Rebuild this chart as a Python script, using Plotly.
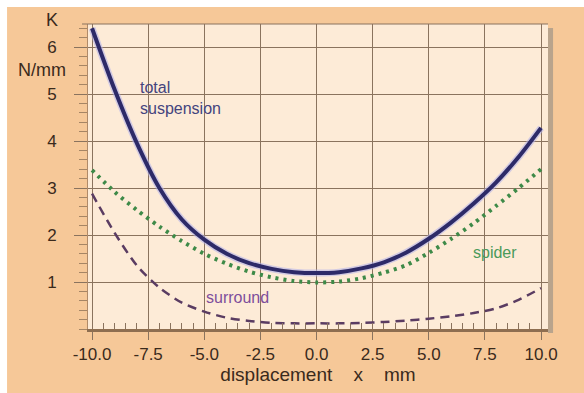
import plotly.graph_objects as go

# ---- data ----
displacement = [-10, -9, -8, -7, -6, -5, -4, -3, -2, -1, 0, 1, 2, 3, 4, 5, 6, 7, 8, 9, 10]
total_suspension = [6.40, 5.10, 3.95, 3.00, 2.33, 1.90, 1.60, 1.40, 1.28, 1.21, 1.19,
                    1.21, 1.29, 1.42, 1.63, 1.92, 2.27, 2.67, 3.12, 3.66, 4.28]
spider = [3.38, 2.92, 2.53, 2.18, 1.87, 1.60, 1.39, 1.22, 1.10, 1.02, 0.99,
          1.01, 1.08, 1.20, 1.36, 1.62, 1.92, 2.25, 2.62, 3.00, 3.40]
surround = [2.88, 2.05, 1.35, 0.88, 0.56, 0.37, 0.24, 0.17, 0.13, 0.12, 0.12,
            0.12, 0.13, 0.15, 0.18, 0.22, 0.27, 0.34, 0.44, 0.62, 0.87]
x_ticks = [-10.0, -7.5, -5.0, -2.5, 0.0, 2.5, 5.0, 7.5, 10.0]
y_ticks = [1, 2, 3, 4, 5, 6]

PEACH = "#F6C898"
CREAM = "#FDEBD7"
GRID = "#8A735E"
TEXT = "#3A2A1C"
FONT = "Liberation Sans, Arial, sans-serif"

fig = go.Figure()
fig.add_trace(go.Scatter(x=displacement, y=surround, mode="lines",
                         line=dict(color="#5A3C62", width=2.5, dash="9px,6px", shape="spline", smoothing=0.8),
                         hoverinfo="skip"))
fig.add_trace(go.Scatter(x=displacement, y=spider, mode="lines",
                         line=dict(color="#3E8A48", width=4, dash="3px,5px", shape="spline", smoothing=0.8),
                         hoverinfo="skip"))
# soft halo under the total curve
fig.add_trace(go.Scatter(x=displacement, y=total_suspension, mode="lines",
                         line=dict(color="rgba(175,175,235,0.55)", width=7, shape="spline", smoothing=0.8),
                         hoverinfo="skip"))
fig.add_trace(go.Scatter(x=displacement, y=total_suspension, mode="lines",
                         line=dict(color="#2D2A68", width=4, shape="spline", smoothing=0.8),
                         hoverinfo="skip"))

ann = [
    dict(x=-7.95, y=5.13, text="total", xanchor="left", font=dict(color="#44447E", size=16)),
    dict(x=-7.95, y=4.70, text="suspension", xanchor="left", font=dict(color="#44447E", size=16)),
    dict(x=7.95, y=1.62, text="spider", xanchor="center", font=dict(color="#4A9A5A", size=16)),
    dict(x=-3.52, y=0.66, text="surround", xanchor="center", font=dict(color="#7E4E9C", size=16)),
]
for a in ann:
    a.update(xref="x", yref="y", showarrow=False, yanchor="middle")
ann += [
    dict(x=-0.078, y=1.013, xref="paper", yref="paper", text="K", showarrow=False,
         xanchor="center", yanchor="middle", font=dict(color=TEXT, size=18)),
    dict(x=-0.10, y=0.849, xref="paper", yref="paper", text="N/mm", showarrow=False,
         xanchor="center", yanchor="middle", font=dict(color=TEXT, size=18)),
]

shapes = [
    # white outer border (top / left)
    dict(type="rect", xref="paper", yref="paper", x0=-0.3, x1=1.2, y0=1.0557, y1=1.2,
         fillcolor="white", line=dict(width=0), layer="above"),
    dict(type="rect", xref="paper", yref="paper", x0=-0.3, x1=-0.176, y0=-0.3, y1=1.2,
         fillcolor="white", line=dict(width=0), layer="above"),
    # shadow on the right of the plot panel
    dict(type="rect", xref="paper", yref="paper", x0=1.0, x1=1.011, y0=-0.013, y1=0.987,
         fillcolor="#B9A48C", line=dict(width=0), layer="below"),
    # top frame line
    dict(type="line", xref="paper", yref="paper", x0=-0.013, x1=1.0, y0=1.0, y1=1.0,
         line=dict(color=GRID, width=1)),
]

fig.update_layout(
    width=584, height=393,
    margin=dict(l=88, r=36, t=24, b=64),
    paper_bgcolor=PEACH, plot_bgcolor=CREAM,
    showlegend=False,
    font=dict(family=FONT, color=TEXT),
    annotations=ann, shapes=shapes,
    xaxis=dict(
        range=[-10.18, 10.31], tickvals=x_ticks, ticktext=[f"{v:.1f}" for v in x_ticks],
        showgrid=True, gridcolor=GRID, gridwidth=1,
        ticks="outside", ticklen=8, tickcolor=GRID, tickwidth=1,
        showline=True, linecolor="#8E6E50", linewidth=3,
        minor=dict(dtick=0.5, tick0=0, ticks="inside", ticklen=6, tickcolor=GRID, showgrid=False),
        tickfont=dict(size=17, color=TEXT),
        title=dict(text="displacement\u00a0\u00a0\u00a0\u00a0x\u00a0\u00a0\u00a0\u00a0mm",
                   font=dict(size=19, color=TEXT), standoff=4),
        zeroline=False,
    ),
    yaxis=dict(
        range=[0, 6.49], tickvals=y_ticks,
        showgrid=True, gridcolor=GRID, gridwidth=1,
        ticks="outside", ticklen=13, tickcolor=GRID, tickwidth=1,
        showline=True, linecolor="#B08A68", linewidth=1,
        minor=dict(dtick=0.2, tick0=0, ticks="outside", ticklen=8, tickcolor="#A58565", showgrid=False),
        tickfont=dict(size=17, color=TEXT),
        ticklabelstandoff=14,
        zeroline=False,
    ),
)

fig.write_html("out.html")
